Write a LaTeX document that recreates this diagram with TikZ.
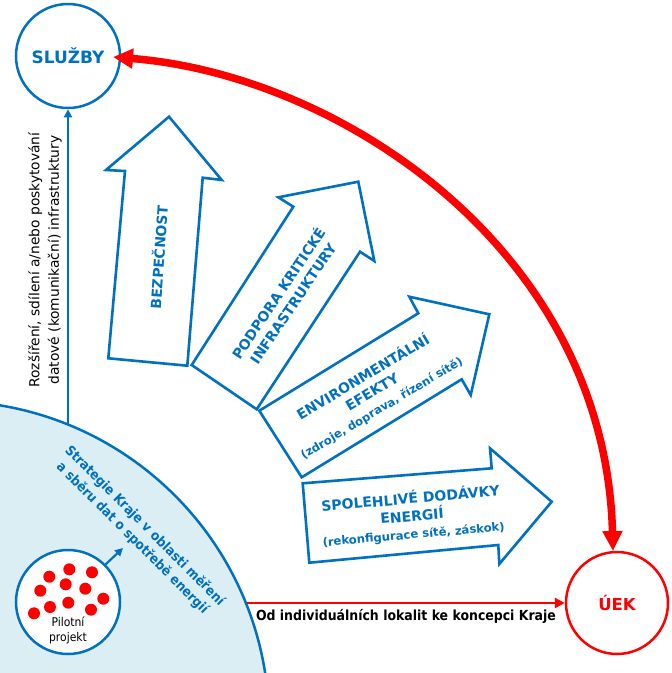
\documentclass[tikz,border=0pt]{standalone}
\usepackage{fontspec}
\setmainfont{DejaVu Sans}
\newfontfamily\condf{DejaVu Sans Condensed}
\usetikzlibrary{arrows.meta}
\definecolor{mblue}{HTML}{0070C0}
\definecolor{lblue}{HTML}{DAEEF3}
\definecolor{mred}{HTML}{FF0000}
\begin{document}
\begin{tikzpicture}[x=1pt,y=-1pt,
  blockarrow/.style={draw=mblue, line width=2.6pt, fill=white, line join=miter},
  arrowtext/.style={text=mblue, font=\bfseries\fontsize{14}{17.5}\selectfont, align=center, inner sep=0pt},
  ring/.style={circle, line width=2.5pt, fill=white, inner sep=0pt},
  bluelink/.style={mblue, line width=2.2pt, -{Triangle[length=8pt,width=8pt]}},
  dot/.style={mred}
]
\useasboundingbox (0,0) rectangle (672,673);
\fill[white] (0,0) rectangle (672,673);
\begin{scope}
\clip (0,0) rectangle (672,673);
\draw[draw=mblue, fill=lblue, line width=2.5pt] (-53,723) circle[radius=322pt];
\end{scope}

% block arrows
\draw[blockarrow] (169,116.7) -- (106,170) -- (125,171) -- (108.3,358.3) -- (187.3,365.7) -- (202.7,177.7) -- (221.7,180) -- cycle;
\draw[blockarrow] (358.3,181.7) -- (278.3,197.3) -- (293.3,206.7) -- (191.7,365) -- (256.7,409.3) -- (360,251.7) -- (374.3,261) -- cycle;
\draw[blockarrow] (489.3,314.3) -- (409.3,296.7) -- (418.3,313.3) -- (259.3,410.7) -- (301.7,477.3) -- (461.7,379.3) -- (470.7,395) -- cycle;
\draw[blockarrow] (551.7,501.7) -- (490,448.3) -- (491.7,468.3) -- (302.7,483.3) -- (309.3,562.7) -- (498.3,545) -- (499.3,564) -- cycle;

\node[arrowtext, rotate=86] (bez) at (158,257) {BEZPEČNOST};
\node[arrowtext, rotate=56] (pod) at (285,298) {PODPORA KRITICKÉ\\INFRASTRUKTURY};
\node[arrowtext, rotate=31] (env) at (372,392) {ENVIRONMENTÁLNÍ\\EFEKTY\\{\fontsize{11.6}{14}\selectfont (zdroje, doprava, řízení sítě)}};
\node[arrowtext, rotate=5] (spol) at (412,516) {SPOLEHLIVÉ DODÁVKY\\ENERGIÍ\\{\fontsize{11.6}{14}\selectfont (rekonfigurace sítě, záskok)}};

% circles
\node[ring, draw=mblue, minimum size=104pt, text=mblue, font=\bfseries\fontsize{17}{19}\selectfont] (sluzby) at (68,56) {SLUŽBY};
\node[ring, draw=mred, minimum size=102pt, text=mred, font=\bfseries\fontsize{16.5}{19}\selectfont] (uek) at (617,603) {ÚEK};
\node[ring, draw=mblue, minimum size=104pt] (pilot) at (68,602) {};
\foreach \p in {(49.3,576.7),(69.3,569.3),(92,572.3),(40.3,590.7),(65.7,584.3),(85.3,588.7),(103.3,598.7),(50,607),(68.3,602.7),(91,609.7),(34,613.3)}
  \fill[dot] \p circle[radius=6pt];
\node[font=\condf\fontsize{12}{15}\selectfont, align=center] (pilottext) at (68,630) {Pilotní\\projekt};

% vertical link
\coordinate (vbase) at (68,424);
\draw[bluelink] (vbase) -- (sluzby.south);
\node[rotate=90, font=\fontsize{13.8}{19.5}\selectfont, align=center] (vtext) at (45,260) {Rozšíření, sdílení a/nebo poskytování\\datové (komunikační) infrastruktury};

% pilot link
\coordinate (strat) at (123,548);
\draw[bluelink] (pilot.45) -- (strat);
\node[rotate=-45, text=mblue, font=\condf\bfseries\fontsize{13.5}{17.5}\selectfont, align=center] (strategy) at (138.5,532) {Strategie Kraje v oblasti měření\\a sběru dat o spotřebě energií};

% bottom red link
\coordinate (hstart) at (247,603);
\draw[mred, line width=2.8pt, -{Triangle[length=10pt,width=10pt]}] (hstart) -- (uek.west);
\node[font=\condf\bfseries\fontsize{13.9}{15}\selectfont] (hlabel) at (406,616) {Od individuálních lokalit ke koncepci Kraje};

% big red arc
\coordinate (sltip) at (113,57);
\coordinate (uektip) at (613,551);
\draw[mred, line width=7.5pt, {Triangle[length=20pt,width=19pt]}-{Triangle[length=20pt,width=19pt]}] (sltip) .. controls (340,75) and (605,250) .. (uektip);
\end{tikzpicture}
\end{document}
